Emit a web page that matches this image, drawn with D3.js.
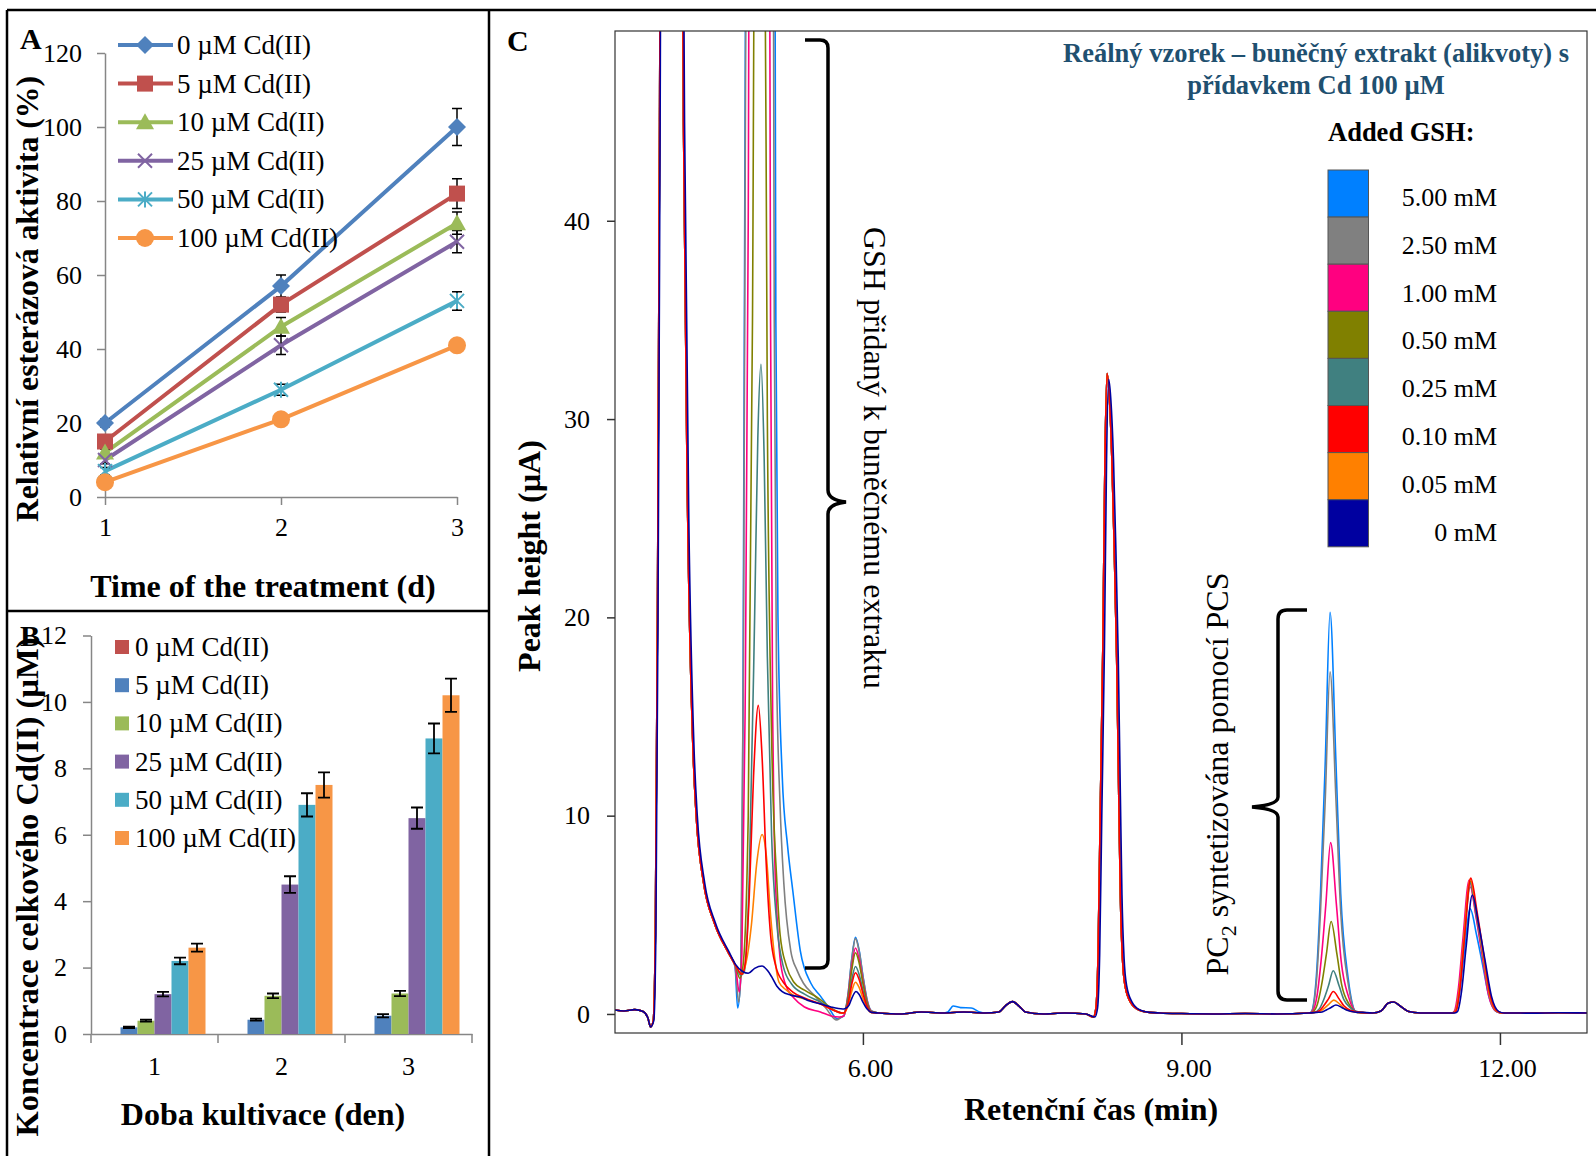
<!DOCTYPE html>
<html>
<head>
<meta charset="utf-8">
<script src="https://cdn.jsdelivr.net/npm/d3@7"></script>
<style>
  body { margin: 0; background: #fff; }
  svg { display: block; }
  text { font-family: "Liberation Serif", "Times New Roman", serif; fill: #000; }
</style>
</head>
<body>
<svg width="1596" height="1156"></svg>
<script>
// ---- panel A : esterase activity ----
let days = [1, 2, 3]
let cdLabels = ["0 µM Cd(II)", "5 µM Cd(II)", "10 µM Cd(II)", "25 µM Cd(II)", "50 µM Cd(II)", "100 µM Cd(II)"]
let esterase = [[20, 57, 100], [15, 52, 82], [12, 46, 74], [10, 41, 69], [7, 29, 53], [4, 21, 41]]
let esteraseErr = [[1, 3, 5], [1, 2, 4], [1, 2.5, 3], [1, 2.5, 3], [1, 1.5, 2.5], [0.5, 1, 1]]
let yTicksA = [0, 20, 40, 60, 80, 100, 120]

// ---- panel B : total Cd ----
let cdTotal = [[0, 0, 0], [0.2, 0.43, 0.55], [0.4, 1.15, 1.22], [1.2, 4.5, 6.5], [2.2, 6.9, 8.9], [2.6, 7.5, 10.2]]
let cdTotalErr = [[0, 0, 0], [0.02, 0.03, 0.05], [0.03, 0.07, 0.08], [0.07, 0.25, 0.32], [0.1, 0.35, 0.45], [0.12, 0.38, 0.5]]
let yTicksB = [0, 2, 4, 6, 8, 10, 12]

// ---- panel C : chromatograms ----
let gshLabels = ["5.00 mM", "2.50 mM", "1.00 mM", "0.50 mM", "0.25 mM", "0.10 mM", "0.05 mM", "0 mM"]
let gshColors = ["#0080FF", "#808080", "#FF0080", "#808000", "#408080", "#FF0000", "#FF8000", "#0000A0"]
let xTicksC = [6, 9, 12]
let yTicksC = [0, 10, 20, 30, 40]

// [time min, height µA]; the 0 mM trace runs a hair later on the big peaks
let traceHead = [[3.665, 0.2], [3.75, 0.15], [3.85, 0.22], [3.93, 0.12], [3.975, -0.2], [4.0, -0.65], [4.025, -0.35],
  [4.045, 4], [4.065, 20], [4.085, 45], [4.1, 65], [4.29, 65], [4.31, 45], [4.35, 25], [4.4, 13.3], [4.43, 10],
  [4.5, 6.6], [4.6, 4.6], [4.735, 3.07]]
let traceHeadNavy = [[3.665, 0.2], [3.75, 0.15], [3.85, 0.22], [3.93, 0.12], [3.975, -0.2], [4.0, -0.65], [4.03, -0.35],
  [4.05, 4], [4.07, 20], [4.09, 45], [4.105, 65], [4.295, 65], [4.32, 45], [4.36, 25], [4.41, 13.3], [4.44, 10],
  [4.51, 6.6], [4.61, 4.6], [4.745, 3.07]]

let gshPeak = [
  [[4.795, 2.45], [4.82, 0.3], [4.845, 1.5], [4.87, 15], [4.89, 45], [4.905, 65], [5.165, 65], [5.18, 35], [5.2, 20], [5.24, 12], [5.29, 8.5], [5.34, 6.2], [5.41, 3.2], [5.51, 1.55], [5.6, 0.9], [5.68, 0.3], [5.76, -0.25], [5.8, -0.15]],
  [[4.795, 2.4], [4.83, 0.6], [4.85, 2], [4.875, 18], [4.895, 48], [4.91, 65], [5.15, 65], [5.165, 35], [5.185, 18], [5.22, 10.5], [5.255, 6.6], [5.32, 3.2], [5.38, 2.2], [5.44, 1.55], [5.55, 0.9], [5.65, 0.3], [5.75, -0.3], [5.8, -0.15]],
  [[4.8, 2.4], [4.835, 1.1], [4.86, 3], [4.89, 15], [4.92, 40], [4.935, 65], [5.115, 65], [5.13, 35], [5.15, 15], [5.165, 9], [5.19, 5], [5.22, 2.8], [5.27, 1.5], [5.35, 0.8], [5.45, 0.35], [5.6, 0.1], [5.7, -0.1], [5.78, -0.15]],
  [[4.8, 2.45], [4.84, 1.8], [4.87, 2.4], [4.92, 10], [4.96, 35], [4.985, 60], [5.07, 60], [5.1, 30], [5.14, 14], [5.19, 6.6], [5.22, 4], [5.28, 2.4], [5.35, 1.6], [5.45, 1.2], [5.58, 0.8], [5.7, 0.3], [5.8, 0.05]],
  [[4.8, 2.45], [4.85, 1.95], [4.88, 2.1], [4.93, 7], [4.98, 20], [5.01, 29], [5.04, 32.76], [5.07, 28], [5.1, 18], [5.14, 9], [5.19, 4.5], [5.25, 2.4], [5.33, 1.5], [5.45, 1.0], [5.6, 0.6], [5.72, 0.2], [5.8, 0.05]],
  [[4.8, 2.45], [4.86, 2.0], [4.89, 2.5], [4.93, 6], [4.97, 12], [5.015, 15.56], [5.05, 13], [5.09, 7.5], [5.13, 4], [5.18, 2.4], [5.25, 1.6], [5.34, 1.1], [5.45, 0.8], [5.6, 0.5], [5.72, 0.2], [5.8, 0.05]],
  [[4.8, 2.45], [4.86, 2.0], [4.9, 2.6], [4.95, 4.5], [5.0, 7.6], [5.05, 9.05], [5.09, 8], [5.13, 5], [5.17, 2.8], [5.21, 1.6], [5.28, 1.2], [5.34, 0.96], [5.45, 0.75], [5.6, 0.5], [5.72, 0.2], [5.8, 0.05]],
  [[4.8, 2.5], [4.87, 2.13], [4.92, 2.05], [4.98, 2.3], [5.05, 2.42], [5.1, 2.2], [5.14, 1.88], [5.19, 1.4], [5.24, 1.13], [5.32, 0.95], [5.41, 0.85], [5.5, 0.65], [5.605, 0.5], [5.7, 0.35], [5.81, 0.25]]
]

let peak595 = [
  [[5.82, -0.1], [5.86, 1.0], [5.895, 2.78], [5.93, 3.86], [5.965, 3.2], [6.0, 1.93], [6.04, 0.7], [6.08, 0.15]],
  [[5.82, -0.1], [5.86, 0.99], [5.895, 2.74], [5.93, 3.8], [5.965, 3.15], [6.0, 1.9], [6.04, 0.68], [6.08, 0.15]],
  [[5.82, -0.1], [5.86, 0.87], [5.895, 2.4], [5.93, 3.33], [5.965, 2.76], [6.0, 1.67], [6.04, 0.6], [6.08, 0.13]],
  [[5.82, 0.05], [5.86, 0.8], [5.895, 2.22], [5.93, 3.09], [5.965, 2.56], [6.0, 1.55], [6.04, 0.56], [6.08, 0.12]],
  [[5.82, 0.05], [5.86, 0.62], [5.895, 1.72], [5.93, 2.39], [5.965, 1.98], [6.0, 1.2], [6.04, 0.43], [6.08, 0.1]],
  [[5.82, 0.05], [5.86, 0.54], [5.895, 1.5], [5.93, 2.08], [5.965, 1.73], [6.0, 1.04], [6.04, 0.37], [6.08, 0.08]],
  [[5.82, 0.05], [5.86, 0.42], [5.895, 1.15], [5.93, 1.6], [5.965, 1.33], [6.0, 0.8], [6.04, 0.29], [6.08, 0.06]],
  [[5.835, 0.28], [5.87, 0.45], [5.9, 0.85], [5.935, 1.13], [5.965, 0.98], [6.0, 0.6], [6.04, 0.25], [6.08, 0.08]]
]

let traceMidA = [[6.15, 0.05], [6.35, 0.0], [6.55, 0.1], [6.75, 0.05], [6.95, 0.1], [7.15, 0.05], [7.28, 0.1], [7.34, 0.4],
  [7.41, 0.62], [7.47, 0.4], [7.53, 0.1], [7.7, 0.0], [7.9, 0.05], [8.1, 0.0]]
let traceMidB = [[8.8, 0.05], [9.0, 0.02], [9.3, 0.0], [9.6, 0.02], [9.9, 0.0], [10.2, 0.05]]

let peak83 = [[8.17, -0.15], [8.195, 0.3], [8.215, 3], [8.235, 10], [8.26, 18.5], [8.28, 28], [8.3, 32.3], [8.32, 31.2],
  [8.345, 28], [8.365, 24], [8.39, 18], [8.41, 11], [8.425, 6], [8.445, 2.8], [8.47, 1.4], [8.52, 0.6], [8.6, 0.2], [8.7, 0.08]]
let peak83Navy = [[8.185, -0.15], [8.21, 0.3], [8.23, 3], [8.25, 10], [8.275, 18.5], [8.295, 28], [8.315, 32.0], [8.335, 31.0],
  [8.36, 28], [8.38, 24], [8.405, 18], [8.425, 11], [8.44, 6], [8.46, 2.8], [8.485, 1.4], [8.535, 0.6], [8.61, 0.2], [8.7, 0.08]]

let traceExtra = [[[6.8, 0.1], [6.85, 0.4], [6.92, 0.32], [7.02, 0.3], [7.1, 0.1]], [], [], [], [], [], [], []]

let pc2Peak = [
  [[10.22, 0.08], [10.27, 1.82], [10.31, 6.08], [10.355, 12.76], [10.4, 20.26], [10.455, 12.76], [10.5, 6.08], [10.57, 1.82], [10.65, 0.08]],
  [[10.22, 0.08], [10.27, 1.55], [10.31, 5.18], [10.355, 10.87], [10.4, 17.26], [10.455, 10.87], [10.5, 5.18], [10.57, 1.55], [10.65, 0.08]],
  [[10.225, 0.08], [10.275, 0.85], [10.315, 2.65], [10.36, 5.5], [10.405, 8.64], [10.46, 5.5], [10.505, 2.65], [10.575, 0.85], [10.655, 0.08]],
  [[10.23, 0.08], [10.28, 0.48], [10.32, 1.45], [10.365, 3.0], [10.41, 4.66], [10.465, 3.0], [10.51, 1.45], [10.58, 0.48], [10.66, 0.08]],
  [[10.25, 0.08], [10.3, 0.27], [10.34, 0.72], [10.385, 1.42], [10.43, 2.18], [10.485, 1.42], [10.53, 0.72], [10.6, 0.27], [10.68, 0.08]],
  [[10.25, 0.08], [10.3, 0.17], [10.34, 0.41], [10.385, 0.76], [10.43, 1.13], [10.485, 0.76], [10.53, 0.41], [10.6, 0.17], [10.68, 0.08]],
  [[10.255, 0.08], [10.305, 0.13], [10.345, 0.28], [10.39, 0.5], [10.435, 0.7], [10.49, 0.5], [10.535, 0.28], [10.605, 0.13], [10.685, 0.08]],
  [[10.275, 0.08], [10.325, 0.1], [10.365, 0.2], [10.41, 0.33], [10.455, 0.45], [10.51, 0.33], [10.555, 0.2], [10.625, 0.1], [10.705, 0.08]]
]

let traceLate = [[10.8, 0.05], [10.88, 0.15], [10.95, 0.55], [11.0, 0.6], [11.06, 0.4], [11.14, 0.12], [11.25, 0.05], [11.45, 0.05]]

let peak117 = [
  [[11.55, 0.05], [11.58, 0.11], [11.62, 1.06], [11.66, 2.92], [11.72, 5.3], [11.78, 3.98], [11.84, 2.39], [11.9, 0.8], [11.97, 0.11], [12.02, 0.05]],
  [[11.55, 0.05], [11.58, 0.13], [11.62, 1.28], [11.66, 3.52], [11.72, 6.4], [11.78, 4.8], [11.84, 2.88], [11.9, 0.96], [11.97, 0.13], [12.02, 0.05]],
  [[11.54, 0.05], [11.57, 0.14], [11.61, 1.35], [11.65, 3.71], [11.71, 6.75], [11.77, 5.06], [11.83, 3.04], [11.89, 1.01], [11.96, 0.14], [12.01, 0.05]],
  [[11.55, 0.05], [11.58, 0.13], [11.62, 1.34], [11.66, 3.69], [11.72, 6.7], [11.78, 5.03], [11.84, 3.02], [11.9, 1.0], [11.97, 0.13], [12.02, 0.05]],
  [[11.55, 0.05], [11.58, 0.13], [11.62, 1.32], [11.66, 3.63], [11.72, 6.6], [11.78, 4.95], [11.84, 2.97], [11.9, 0.99], [11.97, 0.13], [12.02, 0.05]],
  [[11.555, 0.05], [11.585, 0.14], [11.625, 1.37], [11.665, 3.77], [11.725, 6.85], [11.785, 5.14], [11.845, 3.08], [11.905, 1.03], [11.975, 0.14], [12.025, 0.05]],
  [[11.55, 0.05], [11.58, 0.14], [11.62, 1.36], [11.66, 3.74], [11.72, 6.8], [11.78, 5.1], [11.84, 3.06], [11.9, 1.02], [11.97, 0.14], [12.02, 0.05]],
  [[11.57, 0.05], [11.6, 0.12], [11.64, 1.2], [11.68, 3.3], [11.74, 6.0], [11.8, 4.5], [11.86, 2.7], [11.92, 0.9], [11.99, 0.12], [12.04, 0.05]]
]

let traceTail = [[12.08, 0.05], [12.3, 0.04], [12.55, 0.06], [12.82, 0.05]]

let colorsA = ["#4F81BD", "#C0504D", "#9BBB59", "#8064A2", "#4BACC6", "#F79646"]
let markersA = ["diamond", "square", "triangle", "cross", "star", "circle"]
let colorsB = ["#C0504D", "#4F81BD", "#9BBB59", "#8064A2", "#4BACC6", "#F79646"]

let svg = d3.select("svg")
let axisGray = "#868686"

let styleAxis = (g, color, size) => {
  g.select(".domain").attr("stroke", color).attr("stroke-width", 1.5)
  g.selectAll(".tick line").attr("stroke", color).attr("stroke-width", 1.5)
  g.selectAll(".tick text").attr("fill", "#000").style("font-size", size + "px")
    .style("font-family", '"Liberation Serif", "Times New Roman", serif')
}

let drawMarker = (g, type, x, y, color) => {
  if (type == "diamond") {
    g.append("path").attr("d", `M${x},${y - 9}L${x + 9},${y}L${x},${y + 9}L${x - 9},${y}Z`).attr("fill", color)
  } else if (type == "square") {
    g.append("rect").attr("x", x - 8).attr("y", y - 8).attr("width", 16).attr("height", 16).attr("fill", color)
  } else if (type == "triangle") {
    g.append("path").attr("d", `M${x},${y - 9}L${x + 9},${y + 7}L${x - 9},${y + 7}Z`).attr("fill", color)
  } else if (type == "circle") {
    g.append("circle").attr("cx", x).attr("cy", y).attr("r", 9).attr("fill", color)
  } else {
    let d = `M${x - 7},${y - 7}L${x + 7},${y + 7}M${x + 7},${y - 7}L${x - 7},${y + 7}`
    if (type == "star") d += `M${x},${y - 8}L${x},${y + 8}`
    g.append("path").attr("d", d).attr("stroke", color).attr("stroke-width", 2).attr("fill", "none")
  }
}

// ---------- frames ----------
let drawFrames = () => {
  let f = svg.append("g").attr("stroke", "#000").attr("stroke-width", 2.5)
  f.append("line").attr("x1", 7).attr("x2", 1596).attr("y1", 10).attr("y2", 10)
  f.append("line").attr("x1", 7).attr("x2", 7).attr("y1", 10).attr("y2", 1156)
  f.append("line").attr("x1", 489).attr("x2", 489).attr("y1", 10).attr("y2", 1156)
  f.append("line").attr("x1", 7).attr("x2", 489).attr("y1", 611).attr("y2", 611)
}

// ---------- panel A ----------
let drawPanelA = () => {
  let xA = d3.scalePoint().domain(days).range([105, 457])
  let yA = d3.scaleLinear().domain([0, 120]).range([497, 53])

  svg.append("g").attr("transform", "translate(105,0)")
    .call(d3.axisLeft(yA).tickValues(yTicksA).tickSize(8).tickPadding(15).tickSizeOuter(0))
    .call(g => styleAxis(g, axisGray, 26))
  svg.append("g").attr("transform", "translate(0,497)")
    .call(d3.axisBottom(xA).tickSize(8).tickPadding(13).tickSizeOuter(0))
    .call(g => styleAxis(g, axisGray, 26))

  let line = d3.line().x((d, i) => xA(days[i])).y(d => yA(d))
  esterase.forEach((s, k) => {
    svg.append("path").attr("d", line(s)).attr("fill", "none")
      .attr("stroke", colorsA[k]).attr("stroke-width", 4)
  })
  let eb = svg.append("g").attr("stroke", "#000").attr("stroke-width", 1.5)
  esterase.forEach((s, k) => {
    s.forEach((v, i) => {
      let x = xA(days[i]), e = esteraseErr[k][i]
      eb.append("path").attr("d", `M${x},${yA(v - e)}V${yA(v + e)}M${x - 5},${yA(v - e)}H${x + 5}M${x - 5},${yA(v + e)}H${x + 5}`)
    })
  })
  let mk = svg.append("g")
  esterase.forEach((s, k) => s.forEach((v, i) => drawMarker(mk, markersA[k], xA(days[i]), yA(v), colorsA[k])))

  // legend
  cdLabels.forEach((lab, k) => {
    let y = 45 + k * 38.6
    svg.append("line").attr("x1", 118).attr("x2", 173).attr("y1", y).attr("y2", y)
      .attr("stroke", colorsA[k]).attr("stroke-width", 4)
    drawMarker(svg, markersA[k], 145, y, colorsA[k])
    svg.append("text").attr("x", 177).attr("y", y + 9).style("font-size", "27px").text(lab)
  })

  svg.append("text").attr("x", 20).attr("y", 49).style("font-size", "30px").style("font-weight", "bold").text("A")
  svg.append("text").attr("x", 263).attr("y", 597).attr("text-anchor", "middle")
    .style("font-size", "32px").style("font-weight", "bold").text("Time of the treatment (d)")
  svg.append("text").attr("transform", "translate(38,299) rotate(-90)").attr("text-anchor", "middle")
    .style("font-size", "31.7px").style("font-weight", "bold").text("Relativní esterázová aktivita (%)")
}

// ---------- panel B ----------
let drawPanelB = () => {
  let xB = d3.scaleBand().domain(days).range([91, 472])
  let xSub = d3.scaleBand().domain(d3.range(cdLabels.length)).range([0, xB.bandwidth()]).paddingOuter(0.735)
  let yB = d3.scaleLinear().domain([0, 12]).range([1034, 635.5])

  svg.append("g").attr("transform", "translate(91,0)")
    .call(d3.axisLeft(yB).tickValues(yTicksB).tickSize(8).tickPadding(16).tickSizeOuter(0))
    .call(g => styleAxis(g, axisGray, 26))
  svg.append("g").attr("transform", "translate(0,1034)")
    .call(d3.axisBottom(xB).tickSize(0).tickPadding(23).tickSizeOuter(0))
    .call(g => styleAxis(g, axisGray, 26))
  let bounds = days.map(d => xB(d)).concat([xB(days[days.length - 1]) + xB.bandwidth()])
  svg.append("g").selectAll("line").data(bounds).enter().append("line")
    .attr("x1", d => d).attr("x2", d => d).attr("y1", 1034).attr("y2", 1043)
    .attr("stroke", axisGray).attr("stroke-width", 1.5)

  cdTotal.forEach((s, k) => {
    svg.append("g").selectAll("rect").data(s).enter().append("rect")
      .attr("x", (d, i) => xB(days[i]) + xSub(k))
      .attr("width", xSub.bandwidth())
      .attr("y", d => yB(d))
      .attr("height", d => yB(0) - yB(d))
      .attr("fill", colorsB[k])
  })
  let eb = svg.append("g").attr("stroke", "#000").attr("stroke-width", 1.8)
  cdTotal.forEach((s, k) => {
    s.forEach((v, i) => {
      let e = cdTotalErr[k][i]
      if (v == 0) return
      let x = xB(days[i]) + xSub(k) + xSub.bandwidth() / 2
      eb.append("path").attr("d", `M${x},${yB(v - e)}V${yB(v + e)}M${x - 6},${yB(v - e)}H${x + 6}M${x - 6},${yB(v + e)}H${x + 6}`)
    })
  })

  cdLabels.forEach((lab, k) => {
    let y = 647 + k * 38.2
    svg.append("rect").attr("x", 115).attr("y", y - 7).attr("width", 14).attr("height", 14).attr("fill", colorsB[k])
    svg.append("text").attr("x", 135).attr("y", y + 9).style("font-size", "27px").text(lab)
  })

  svg.append("text").attr("x", 20).attr("y", 646).style("font-size", "30px").style("font-weight", "bold").text("B")
  svg.append("text").attr("x", 263).attr("y", 1125).attr("text-anchor", "middle")
    .style("font-size", "32px").style("font-weight", "bold").text("Doba kultivace (den)")
  svg.append("text").attr("transform", "translate(38,887) rotate(-90)").attr("text-anchor", "middle")
    .style("font-size", "32.6px").style("font-weight", "bold").text("Koncentrace celkového Cd(II) (µM)")
}

// ---------- panel C ----------
let drawPanelC = () => {
  let xC = d3.scaleLinear().domain([3.665, 12.82]).range([615, 1587])
  let yC = d3.scaleLinear().domain([-0.96, 49.57]).range([1033, 31])

  svg.append("defs").append("clipPath").attr("id", "plotC")
    .append("rect").attr("x", 615).attr("y", 31).attr("width", 972).attr("height", 1002)

  let buildTrace = i => {
    let extra = traceExtra[i]
    let head = i == 7 ? traceHeadNavy : traceHead
    let p83 = i == 7 ? peak83Navy : peak83
    let mid = traceMidA.filter(p => !extra.length || p[0] < extra[0][0] || p[0] > extra[extra.length - 1][0])
    return [...head, ...gshPeak[i], ...peak595[i], ...mid, ...extra, ...p83, ...traceMidB, ...pc2Peak[i],
      ...traceLate, ...peak117[i], ...traceTail].sort((a, b) => a[0] - b[0])
  }
  let line = d3.line().x(d => xC(d[0])).y(d => yC(d[1])).curve(d3.curveMonotoneX)
  let lines = svg.append("g").attr("clip-path", "url(#plotC)")
  let order = [0, 1, 2, 3, 4, 6, 5, 7]
  order.forEach(i => {
    lines.append("path").attr("d", line(buildTrace(i))).attr("fill", "none")
      .attr("stroke", gshColors[i]).attr("stroke-width", 1.6)
  })

  svg.append("rect").attr("x", 615).attr("y", 31).attr("width", 972).attr("height", 1002)
    .attr("fill", "none").attr("stroke", "#333").attr("stroke-width", 1.2)

  svg.append("g").attr("transform", "translate(615,0)")
    .call(d3.axisLeft(yC).tickValues(yTicksC).tickSize(8).tickPadding(17).tickSizeOuter(0))
    .call(g => styleAxis(g, "#333", 26))
    .call(g => g.select(".domain").remove())
  svg.append("g").attr("transform", "translate(0,1033)")
    .call(d3.axisBottom(xC).tickValues(xTicksC).tickFormat(d3.format(".2f")).tickSize(12).tickPadding(14).tickSizeOuter(0))
    .call(g => styleAxis(g, "#333", 26))
    .call(g => g.select(".domain").remove())
    .call(g => g.selectAll(".tick text").attr("dx", 7))

  // braces
  svg.append("path")
    .attr("d", "M805,40 L820,40 Q828,40 828,48 L828,490 Q828,500 846,502 Q828,504 828,514 L828,960 Q828,968 820,968 L805,968")
    .attr("fill", "none").attr("stroke", "#000").attr("stroke-width", 3.5)
  svg.append("path")
    .attr("d", "M1307,610 L1287,610 Q1278,610 1278,619 L1278,797 Q1278,805 1252,807 Q1278,809 1278,817 L1278,991 Q1278,1000 1287,1000 L1307,1000")
    .attr("fill", "none").attr("stroke", "#000").attr("stroke-width", 3.5)

  svg.append("text").attr("transform", "translate(864,458) rotate(90)").attr("text-anchor", "middle")
    .style("font-size", "32px").text("GSH přidaný k buněčnému extraktu")
  let pcs = svg.append("text").attr("transform", "translate(1228,774) rotate(-90)").attr("text-anchor", "middle")
    .style("font-size", "32px")
  pcs.append("tspan").text("PC")
  pcs.append("tspan").attr("dy", 8).style("font-size", "22px").text("2")
  pcs.append("tspan").attr("dy", -8).text(" syntetizována pomocí PCS")

  // title and legend
  let teal = "#1F5070"
  svg.append("text").attr("x", 1316).attr("y", 62).attr("text-anchor", "middle").style("fill", teal)
    .style("font-size", "26.5px").style("font-weight", "bold").text("Reálný vzorek – buněčný extrakt (alikvoty) s")
  svg.append("text").attr("x", 1316).attr("y", 94).attr("text-anchor", "middle").style("fill", teal)
    .style("font-size", "26.5px").style("font-weight", "bold").text("přídavkem Cd 100 µM")
  svg.append("text").attr("x", 1328).attr("y", 141).style("font-size", "26.5px").style("font-weight", "bold").text("Added GSH:")
  gshLabels.forEach((lab, i) => {
    svg.append("rect").attr("x", 1328).attr("y", 170 + i * 47.1).attr("width", 40.5).attr("height", 47.1)
      .attr("fill", gshColors[i]).attr("stroke", "#555").attr("stroke-width", 1)
    svg.append("text").attr("x", 1497).attr("y", 206 + i * 47.8).attr("text-anchor", "end")
      .style("font-size", "26px").text(lab)
  })

  svg.append("text").attr("x", 507).attr("y", 51).style("font-size", "30px").style("font-weight", "bold").text("C")
  svg.append("text").attr("x", 1091).attr("y", 1120).attr("text-anchor", "middle")
    .style("font-size", "32px").style("font-weight", "bold").text("Retenční čas (min)")
  svg.append("text").attr("transform", "translate(540,556) rotate(-90)").attr("text-anchor", "middle")
    .style("font-size", "32px").style("font-weight", "bold").text("Peak height (µA)")
}

drawFrames()
drawPanelA()
drawPanelB()
drawPanelC()
</script>
</body>
</html>
